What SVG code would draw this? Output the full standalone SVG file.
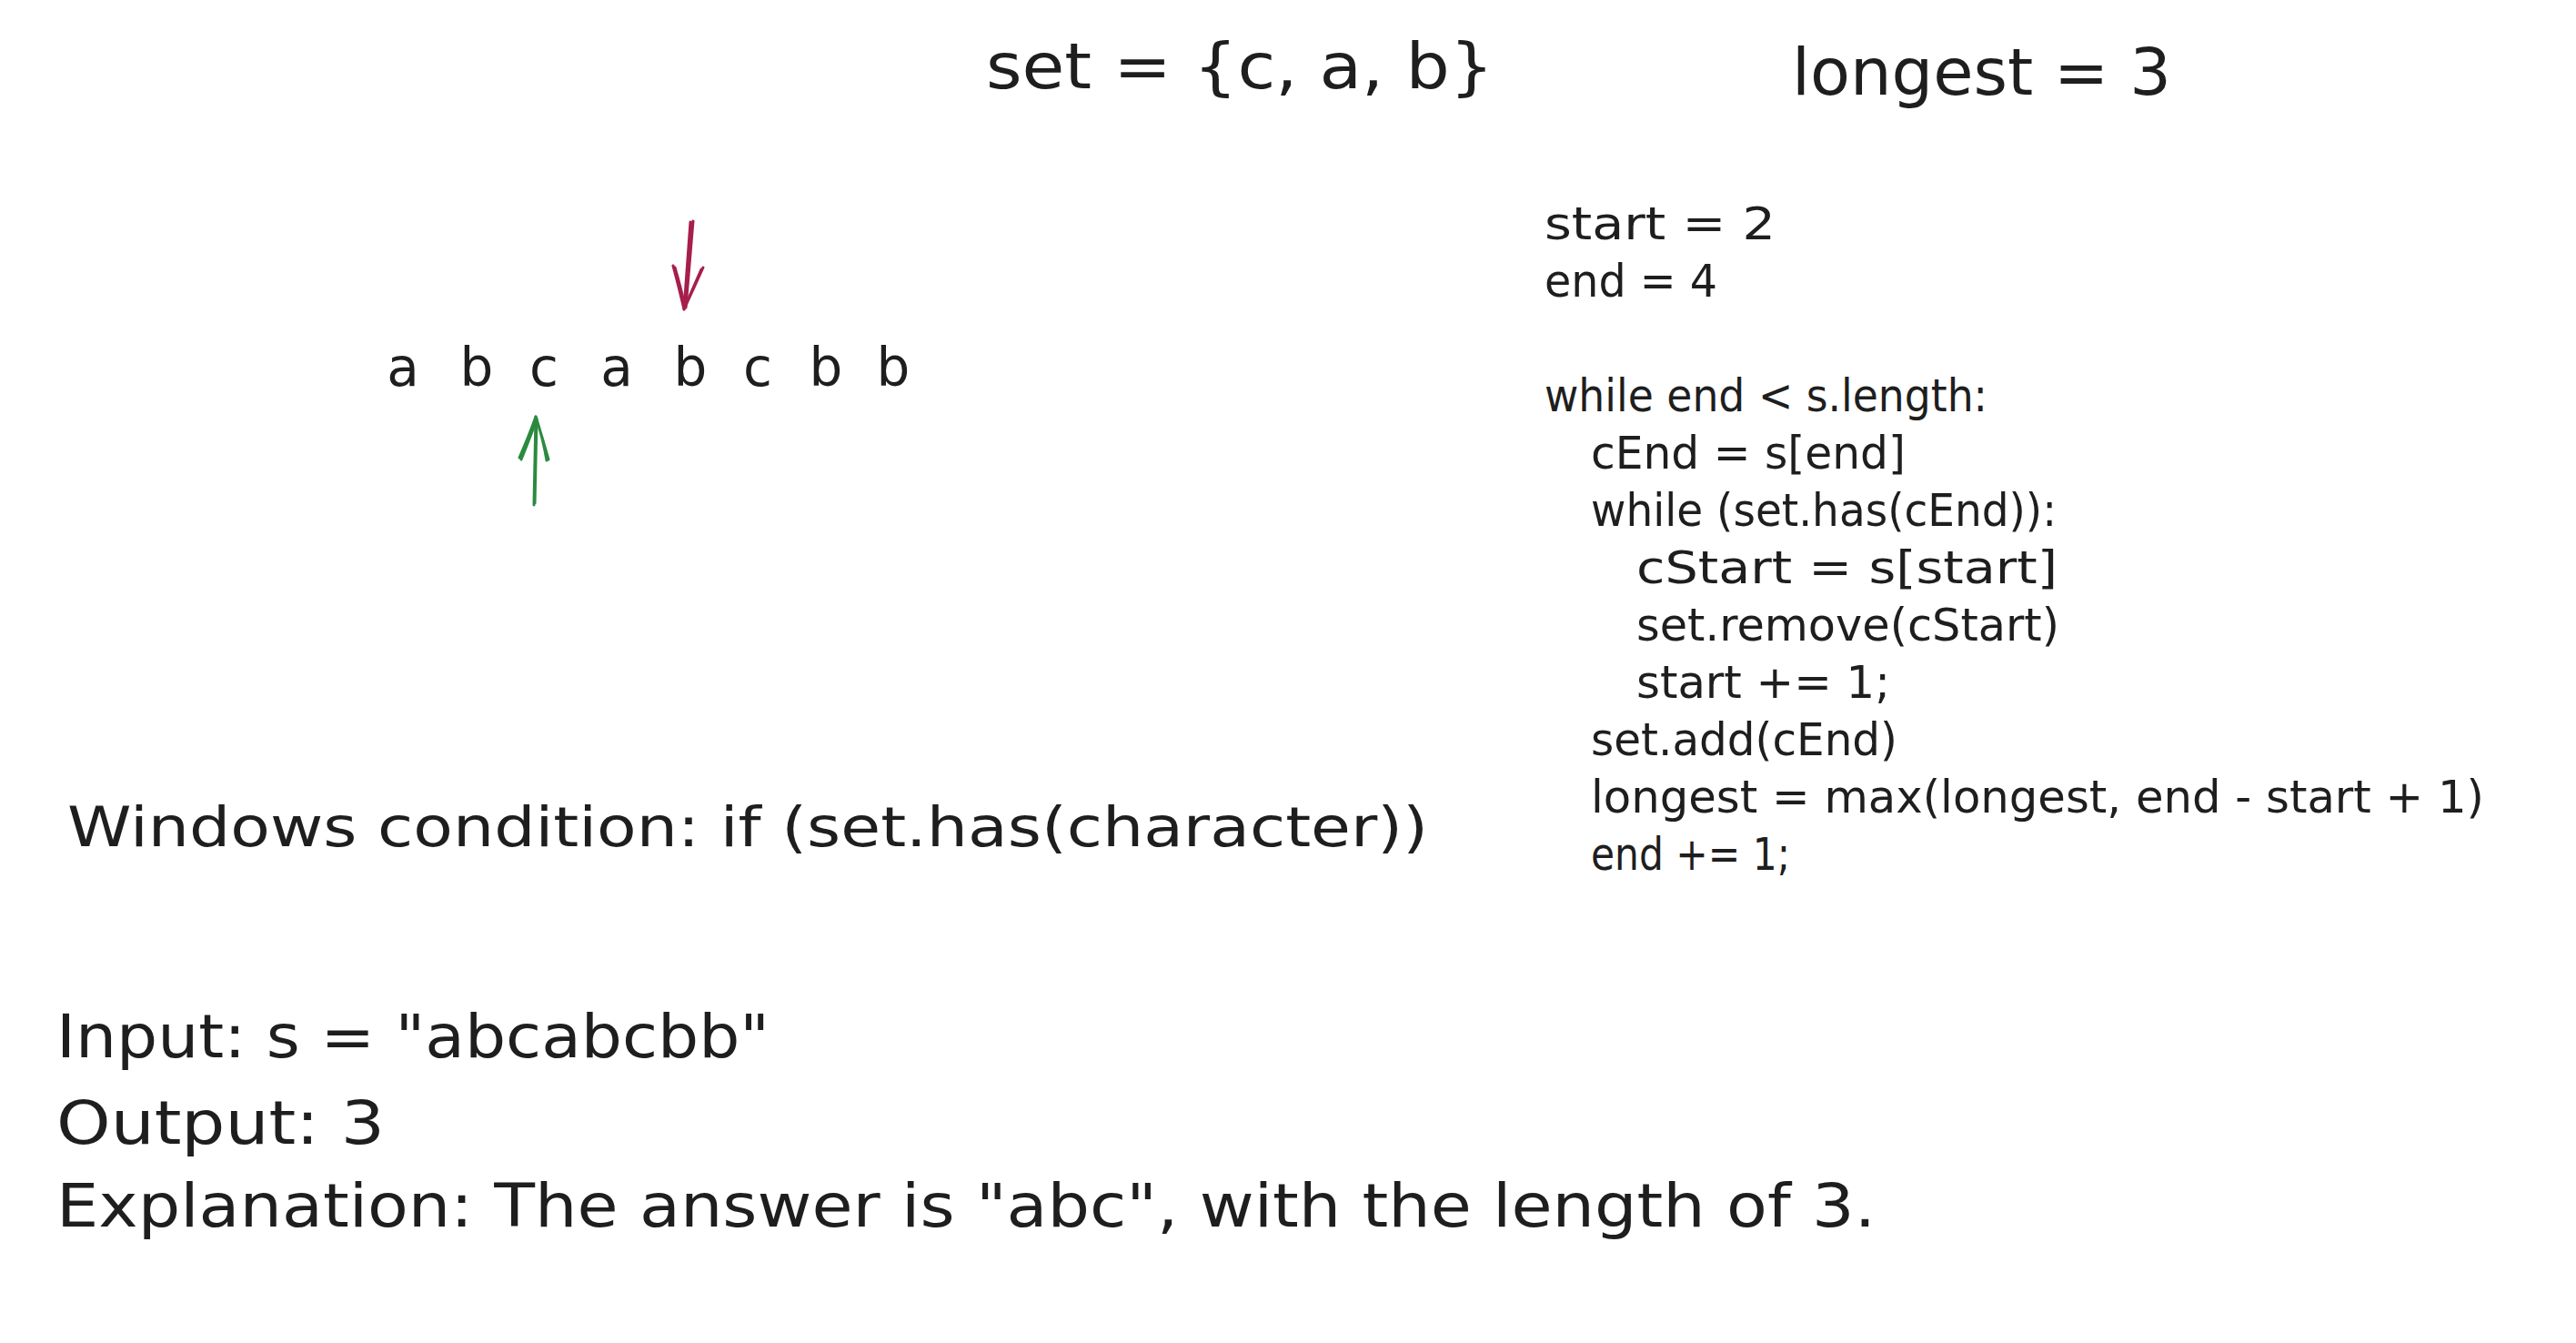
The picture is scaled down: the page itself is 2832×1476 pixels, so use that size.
<svg xmlns="http://www.w3.org/2000/svg" width="2832" height="1476" viewBox="0 0 2832 1476">
<style>
text{font-family:"DejaVu Sans","Liberation Sans",sans-serif;fill:#1e1e1e}
.big{font-size:70px}
.row{font-size:58px;text-anchor:middle}
.code{font-size:50px}
.cond{font-size:60px}
.io{font-size:66px}
.red{stroke:#a61e4d;stroke-width:3;fill:none;stroke-linecap:round;stroke-linejoin:round}
.green{stroke:#2b8a3e;stroke-width:3;fill:none;stroke-linecap:round;stroke-linejoin:round}
</style>
<rect width="2832" height="1476" fill="#ffffff"/>
<g id="set-label"><text class="big" x="1084" y="97" textLength="558" lengthAdjust="spacingAndGlyphs">set = {c, a, b}</text></g>
<g id="longest-label"><text class="big" x="1970" y="104" textLength="417" lengthAdjust="spacingAndGlyphs" style="font-size:72px">longest = 3</text></g>
<g id="string-row"><text class="row" y="424" x="443 483 524 561 598 638 678 718 759 796 833 870 908 945 982">a b c a b c b b</text></g>
<g id="code">
<text class="code" x="1698" y="263" textLength="254" lengthAdjust="spacingAndGlyphs">start = 2</text>
<text class="code" x="1698" y="326" textLength="190" lengthAdjust="spacingAndGlyphs">end = 4</text>
<text class="code" x="1698" y="452" textLength="487" lengthAdjust="spacingAndGlyphs">while end &lt; s.length:</text>
<text class="code" x="1749" y="515" textLength="346" lengthAdjust="spacingAndGlyphs">cEnd = s[end]</text>
<text class="code" x="1749" y="578" textLength="512" lengthAdjust="spacingAndGlyphs">while (set.has(cEnd)):</text>
<text class="code" x="1799" y="641" textLength="463" lengthAdjust="spacingAndGlyphs">cStart = s[start]</text>
<text class="code" x="1799" y="704" textLength="465" lengthAdjust="spacingAndGlyphs">set.remove(cStart)</text>
<text class="code" x="1799" y="767" textLength="279" lengthAdjust="spacingAndGlyphs">start += 1;</text>
<text class="code" x="1749" y="830" textLength="337" lengthAdjust="spacingAndGlyphs">set.add(cEnd)</text>
<text class="code" x="1749" y="893" textLength="982" lengthAdjust="spacingAndGlyphs">longest = max(longest, end - start + 1)</text>
<text class="code" x="1749" y="956" textLength="219" lengthAdjust="spacingAndGlyphs">end += 1;</text>
</g>
<g id="window-condition"><text class="cond" x="74" y="930" textLength="1496" lengthAdjust="spacingAndGlyphs">Windows condition: if (set.has(character))</text></g>
<g id="example">
<text class="io" x="62" y="1162" textLength="784" lengthAdjust="spacingAndGlyphs">Input: s = "abcabcbb"</text>
<text class="io" x="62" y="1257" textLength="361" lengthAdjust="spacingAndGlyphs">Output: 3</text>
<text class="io" x="62" y="1348" textLength="2000" lengthAdjust="spacingAndGlyphs">Explanation: The answer is "abc", with the length of 3.</text>
</g>
<g id="connectors">
<g id="end-pointer">
<path class="red" d="M759 244 L752 340 M762 243 L754 338"/>
<path class="red" d="M740 292 Q747 318 752 340 L773 294 M742 294 Q749 318 753 337 L771 296"/>
</g>
<g id="start-pointer">
<path class="green" d="M587 555 L589 458 M588 553 L590 460"/>
<path class="green" d="M571 503 Q582 478 589 458 Q596 480 603 505 M573 505 Q583 480 590 461 Q597 482 601 506"/>
</g>
</g>
</svg>
